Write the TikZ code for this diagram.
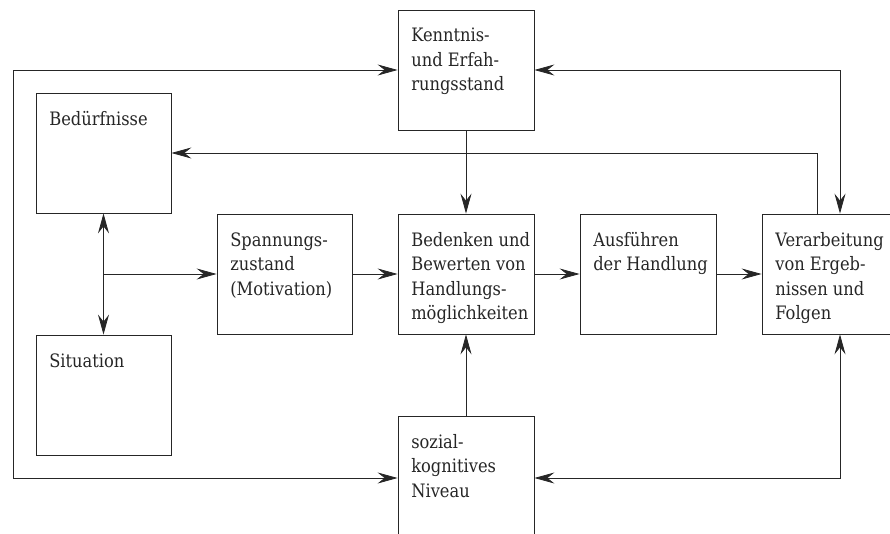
\documentclass[tikz,border=0pt]{standalone}
\usepackage{fontspec}
\setmainfont{DejaVu Serif}[FakeStretch=0.88]
\usetikzlibrary{arrows.meta}
\begin{document}
\begin{tikzpicture}[x=1pt,y=-1pt,
  box/.style={draw=black!85,line width=0.8pt,minimum width=136pt,minimum height=120pt,inner sep=0pt},
  txt/.style={anchor=north west,inner sep=0pt,align=left,text=black!85,
    font=\fontsize{18.5}{24.5}\selectfont,execute at begin node=\rule{0pt}{14pt}},
  con/.style={draw=black!85,line width=0.8pt},
  tip/.style={-{Stealth[length=20pt,width=11pt,inset=7pt]}},
  tips/.style={{Stealth[length=20pt,width=11pt,inset=7pt]}-{Stealth[length=20pt,width=11pt,inset=7pt]}}]
\useasboundingbox (0,0) rectangle (890,534);
% boxes
\node[box] (ken) at (466,70) {};
\node[box,minimum width=135pt] (bed) at (103.5,153) {};
\node[box,minimum width=135pt] (sit) at (103.5,395) {};
\node[box,minimum width=135pt] (spa) at (284.5,274) {};
\node[box] (bew) at (466,274) {};
\node[box] (aus) at (648,274) {};
\node[box] (ver) at (830,274) {};
\node[box,minimum height=124pt] (soz) at (466,478) {};
% texts
\node[txt] (tken) at ([shift={(13.5,18.5)}]ken.north west) {Kenntnis-\\und Erfah-\\rungsstand};
\node[txt] (tbed) at ([shift={(13.5,18.5)}]bed.north west) {Bedürfnisse};
\node[txt] (tsit) at ([shift={(13.5,18.5)}]sit.north west) {Situation};
\node[txt] (tspa) at ([shift={(13.5,18.5)}]spa.north west) {Spannungs-\\zustand\\(Motivation)};
\node[txt] (tbew) at ([shift={(13.5,18.5)}]bew.north west) {Bedenken und\\Bewerten von\\Handlungs-\\möglichkeiten};
\node[txt] (taus) at ([shift={(13.5,18.5)}]aus.north west) {Ausführen\\der Handlung};
\node[txt] (tver) at ([shift={(13.5,18.5)}]ver.north west) {Verarbeitung\\von Ergeb-\\nissen und\\Folgen};
\node[txt] (tsoz) at ([shift={(13.5,18.5)}]soz.north west) {sozial-\\kognitives\\Niveau};
% helper coordinates
\coordinate (jn) at (bed.south |- spa.west);
\coordinate (fb) at ([xshift=56pt]ver.north west);
\coordinate (rx) at ([xshift=10pt]ver.north);
\coordinate (ry) at ([xshift=10pt]ver.south);
% connectors
\draw[con,tips] (ken.west) -| (13,478) -- (soz.west);
\draw[con,tips] (ken.east) -| (rx);
\draw[con,tips] (soz.east) -| (ry);
\draw[con,tip] (fb) |- (bed.east);
\draw[con,tip] (ken.south) -- (bew.north);
\draw[con,tip] (soz.north) -- (bew.south);
\draw[con,tips] (bed.south) -- (sit.north);
\draw[con,tip] (jn) -- (spa.west);
\draw[con,tip] (spa.east) -- (bew.west);
\draw[con,tip] (bew.east) -- (aus.west);
\draw[con,tip] (aus.east) -- (ver.west);
\end{tikzpicture}
\end{document}
